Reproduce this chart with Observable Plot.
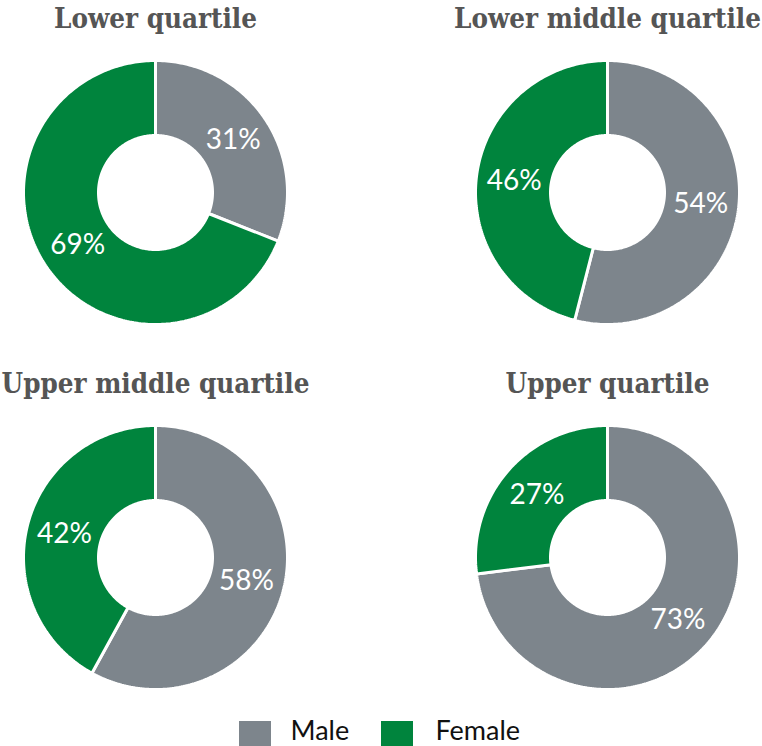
<!DOCTYPE html>
<html>
<head>
<meta charset="utf-8">
<script src="https://cdn.jsdelivr.net/npm/d3@7"></script>
<script src="https://cdn.jsdelivr.net/npm/@observablehq/plot@0.6"></script>
<style>
  html, body { margin: 0; padding: 0; background: #fff; }
  #chart svg { display: block; }
</style>
</head>
<body>
<div id="chart"></div>
<script>
// ---- data ----
const quartiles = ["Lower quartile", "Lower middle quartile", "Upper middle quartile", "Upper quartile"];
const genders = ["Male", "Female"];
const malePct = [31, 54, 58, 73];
const femalePct = [69, 46, 42, 27];
const genderColors = ["#7d858c", "#00843d"];

// ---- layout ----
const W = 762, H = 746;
const colX = [155, 607];
const rowY = [192, 557];
const rOuter = 132, rInner = 57, rLabel = 94;

const points = [];
const labels = [];
const titles = [];
quartiles.forEach((q, i) => {
  const cx = colX[i % 2], cy = rowY[Math.floor(i / 2)];
  titles.push({title: q, x: cx, y: cy - 173});
  const vals = [malePct[i], femalePct[i]];
  const total = d3.sum(vals);
  let start = 0;
  vals.forEach((v, j) => {
    const a0 = start / total * 2 * Math.PI;
    const a1 = (start + v) / total * 2 * Math.PI;
    const id = q + "|" + genders[j];
    const n = Math.max(2, Math.ceil((a1 - a0) / (Math.PI / 180)));
    for (let k = 0; k <= n; k++) {
      const a = a0 + (a1 - a0) * k / n;
      points.push({id, gender: genders[j], x: cx + rOuter * Math.sin(a), y: cy - rOuter * Math.cos(a)});
    }
    for (let k = n; k >= 0; k--) {
      const a = a0 + (a1 - a0) * k / n;
      points.push({id, gender: genders[j], x: cx + rInner * Math.sin(a), y: cy - rInner * Math.cos(a)});
    }
    const am = (a0 + a1) / 2;
    labels.push({text: v + "%", x: cx + rLabel * Math.sin(am), y: cy - rLabel * Math.cos(am)});
    start += v;
  });
});

const legend = genders.map((g, j) => ({
  gender: g,
  x1: [239, 381][j], x2: [239, 381][j] + 32,
  y1: 721, y2: 753,
  tx: [290, 435][j], ty: 731
}));

const chart = Plot.plot({
  width: W,
  height: H,
  margin: 0,
  x: {domain: [0, W], range: [0, W], axis: null},
  y: {domain: [0, H], range: [0, H], axis: null},
  color: {domain: genders, range: genderColors},
  style: {background: "#fff"},
  marks: [
    Plot.line(points, {
      x: "x", y: "y", z: "id", fill: "gender",
      stroke: "#fff", strokeWidth: 3, curve: "linear-closed", strokeLinejoin: "miter"
    }),
    Plot.text(labels, {
      x: "x", y: "y", text: "text", fill: "#fff",
      fontSize: 28, fontFamily: "Lato", textAnchor: "middle"
    }),
    Plot.text(titles, {
      x: "x", y: "y", text: "title", fill: "#555",
      fontSize: 27.5, fontWeight: "bold", fontFamily: "DejaVu Serif Condensed, DejaVu Serif",
      textAnchor: "middle"
    }),
    Plot.rect(legend, {x1: "x1", x2: "x2", y1: "y1", y2: "y2", fill: "gender"}),
    Plot.text(legend, {
      x: "tx", y: "ty", text: "gender", fill: "#111",
      fontSize: 27, fontFamily: "Lato", textAnchor: "start", letterSpacing: 1.2
    })
  ]
});
document.getElementById("chart").appendChild(chart);
</script>
</body>
</html>
